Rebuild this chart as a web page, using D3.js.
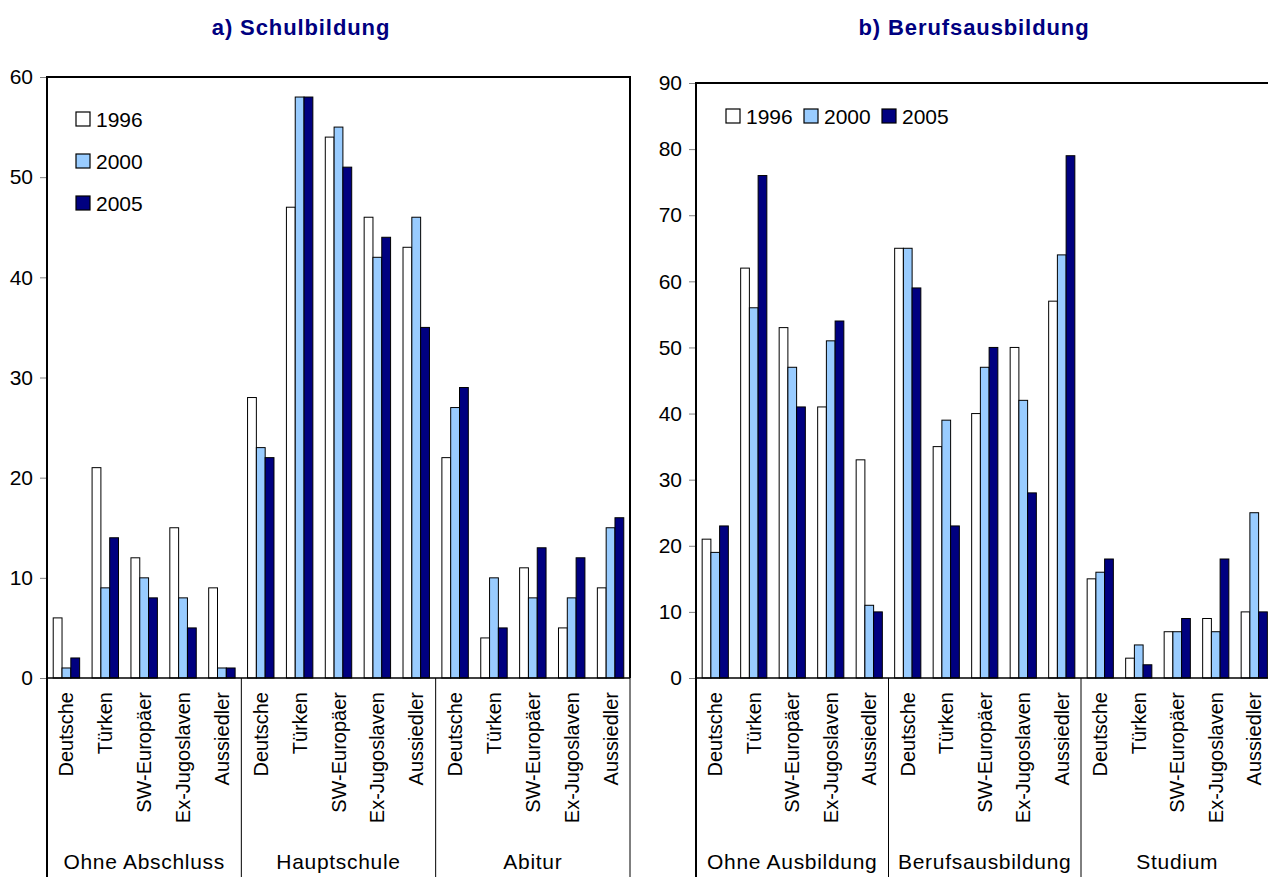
<!DOCTYPE html>
<html><head><meta charset="utf-8">
<script src="https://cdn.jsdelivr.net/npm/d3@7/dist/d3.min.js"></script>
<style>body{margin:0;background:#fff}svg{display:block;font-family:"Liberation Sans",Arial,sans-serif}</style>
</head><body><svg id="c" width="1268" height="877"></svg>
<script>
const nationalities = ["Deutsche","Türken","SW-Europäer","Ex-Jugoslaven","Aussiedler"];
const years = ["1996","2000","2005"];
const colors = ["#ffffff","#99ccff","#000080"];

// a) Schulbildung
const schoolGroups = ["Ohne Abschluss","Hauptschule","Abitur"];
const school1996 = [6,21,12,15,9, 28,47,54,46,43, 22,4,11,5,9];
const school2000 = [1,9,10,8,1, 23,58,55,42,46, 27,10,8,8,15];
const school2005 = [2,14,8,5,1, 22,58,51,44,35, 29,5,13,12,16];
const schoolTicks = [0,10,20,30,40,50,60];

// b) Berufsausbildung
const jobGroups = ["Ohne Ausbildung","Berufsausbildung","Studium"];
const job1996 = [21,62,53,41,33, 65,35,40,50,57, 15,3,7,9,10];
const job2000 = [19,56,47,51,11, 65,39,47,42,64, 16,5,7,7,25];
const job2005 = [23,76,41,54,10, 59,23,50,28,79, 18,2,9,18,10];
const jobTicks = [0,10,20,30,40,50,60,70,80,90];

const svg = d3.select("#c");
const FS = 20;

function panel(cfg){
  const g = svg.append("g");
  const cats = [];
  cfg.groups.forEach((gr,gi)=>nationalities.forEach((n,ni)=>cats.push({gi,ni,label:n,key:gi*5+ni})));
  const x = d3.scaleBand().domain(cats.map(c=>c.key)).range([cfg.x0,cfg.x1]).padding(0);
  const step = x.step();
  const sub = d3.scaleBand().domain(years).range([step*0.16, step*0.84]).padding(0);
  const y = d3.scaleLinear().domain([0,cfg.max]).range([678,cfg.yTop]);
  const series = [cfg.s1996,cfg.s2000,cfg.s2005];

  years.forEach((yr,si)=>{
    g.selectAll(null).data(cats).enter().append("rect")
      .attr("x",c=>x(c.key)+sub(yr))
      .attr("width",sub.bandwidth())
      .attr("y",c=>y(series[si][c.key]))
      .attr("height",c=>y(0)-y(series[si][c.key]))
      .attr("fill",colors[si]).attr("stroke","#000").attr("stroke-width",1);
  });

  const ax = g.append("g").attr("transform",`translate(${cfg.x0},0)`)
    .call(d3.axisLeft(y).tickValues(cfg.ticks).tickSize(7).tickPadding(7));
  ax.select(".domain").remove();
  ax.selectAll(".tick line").attr("stroke","#808080");
  ax.selectAll(".tick text").attr("font-size",21).attr("fill","#000").attr("font-family","Liberation Sans, Arial, sans-serif");

  g.append("path").attr("d",`M${cfg.x0},877V${y(cfg.max)}H${cfg.x1}V678`)
    .attr("fill","none").attr("stroke","#000").attr("stroke-width",2);
  g.append("line").attr("x1",cfg.x0).attr("x2",cfg.x1).attr("y1",y(0)).attr("y2",y(0))
    .attr("stroke","#000").attr("stroke-width",1.5);

  [5,10,15].forEach(k=>{
    const xx = cfg.x0 + k*step;
    g.append("line").attr("x1",xx).attr("x2",xx).attr("y1",678).attr("y2",877)
      .attr("stroke","#000").attr("stroke-width",1);
  });

  g.selectAll(null).data(cats).enter().append("text")
    .attr("transform",c=>`translate(${x(c.key)+step/2+7},692) rotate(-90)`)
    .attr("text-anchor","end").attr("font-size",FS).attr("fill","#000")
    .text(c=>c.label);

  g.selectAll(null).data(cfg.groups).enter().append("text")
    .attr("x",(d,i)=>cfg.x0+(i*5+2.5)*step).attr("y",869)
    .attr("text-anchor","middle").attr("font-size",21).attr("letter-spacing",0.7).attr("fill","#000")
    .text(d=>d);

  g.append("text").attr("x",cfg.titleX).attr("y",35).attr("text-anchor","middle")
    .attr("font-size",22).attr("letter-spacing",0.9).attr("font-weight","bold").attr("fill","#000080").text(cfg.title);

  years.forEach((yr,i)=>{
    const p = cfg.legend(i);
    g.append("rect").attr("x",p[0]).attr("y",p[1]-7).attr("width",14).attr("height",14)
      .attr("fill",colors[i]).attr("stroke","#000").attr("stroke-width",1.2);
    g.append("text").attr("x",p[0]+20).attr("y",p[1]+8).attr("font-size",21).attr("fill","#000").text(yr);
  });
}

panel({x0:47,x1:630,yTop:77,max:60,ticks:schoolTicks,groups:schoolGroups,
  s1996:school1996,s2000:school2000,s2005:school2005,title:"a) Schulbildung",titleX:301,
  legend:i=>[76,119+i*42]});
panel({x0:696,x1:696+15*38.5,yTop:83,max:90,ticks:jobTicks,groups:jobGroups,
  s1996:job1996,s2000:job2000,s2005:job2005,title:"b) Berufsausbildung",titleX:974,
  legend:i=>[726+i*78,116]});
</script></body></html>
